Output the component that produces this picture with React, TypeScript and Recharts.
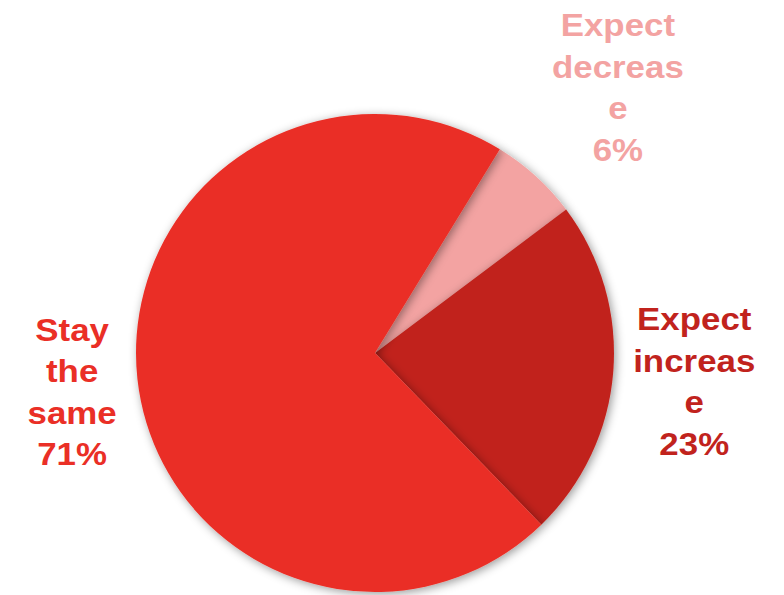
import React from 'react';
import { PieChart, Pie, Cell } from 'recharts';

const categories = ['Expect decrease', 'Expect increase', 'Stay the same'];
const values = [6, 23, 71];
const labelLines = [
  ['Expect', 'decreas', 'e', '6%'],
  ['Expect', 'increas', 'e', '23%'],
  ['Stay', 'the', 'same', '71%'],
];
const colors = ['#F3A3A2', '#C1231D', '#EA2F26'];
const labelDist = [1.51, 1.34, 1.275];
const labelDy = [1, 3, 5];

const data = categories.map((name, i) => ({ name, value: values[i] }));

const RAD = Math.PI / 180;

const renderLabel = (props: any) => {
  const { cx, cy, midAngle, outerRadius, index } = props;
  const r = outerRadius * labelDist[index];
  const x = cx + r * Math.cos(-midAngle * RAD);
  const y = cy + r * Math.sin(-midAngle * RAD) + labelDy[index];
  const lines = labelLines[index];
  const lh = 41.5;
  const top = y - ((lines.length - 1) * lh) / 2;
  return (
    <g transform={`translate(${x},0) scale(1.09,1) translate(${-x},0)`}>
      <text
        x={x}
        y={top}
        fill={colors[index]}
        textAnchor="middle"
        dominantBaseline="central"
        fontFamily="'Liberation Sans', Arial, sans-serif"
        fontWeight="bold"
        fontSize={32}
      >
        {lines.map((l, i) => (
          <tspan key={i} x={x} y={top + i * lh} dominantBaseline="central">
            {l}
          </tspan>
        ))}
      </text>
    </g>
  );
};

export default function App() {
  return (
    <div style={{ position: 'absolute', left: 0, top: 0, background: '#fff' }}>
      <PieChart width={784} height={595} margin={{ top: 0, right: 0, bottom: 0, left: 0 }}>
        <defs>
          <filter id="pieShadow" x="-20%" y="-20%" width="140%" height="140%">
            <feDropShadow dx="2" dy="2" stdDeviation="5" floodColor="#000" floodOpacity="0.4" />
          </filter>
        </defs>
        <Pie
          data={data}
          dataKey="value"
          nameKey="name"
          cx={375}
          cy={353}
          outerRadius={239}
          startAngle={58.5}
          endAngle={-301.5}
          stroke="none"
          isAnimationActive={false}
          label={renderLabel}
          labelLine={false}
          style={{ filter: 'url(#pieShadow)' }}
        >
          {data.map((d, i) => (
            <Cell key={d.name} fill={colors[i]} />
          ))}
        </Pie>
      </PieChart>
    </div>
  );
}
